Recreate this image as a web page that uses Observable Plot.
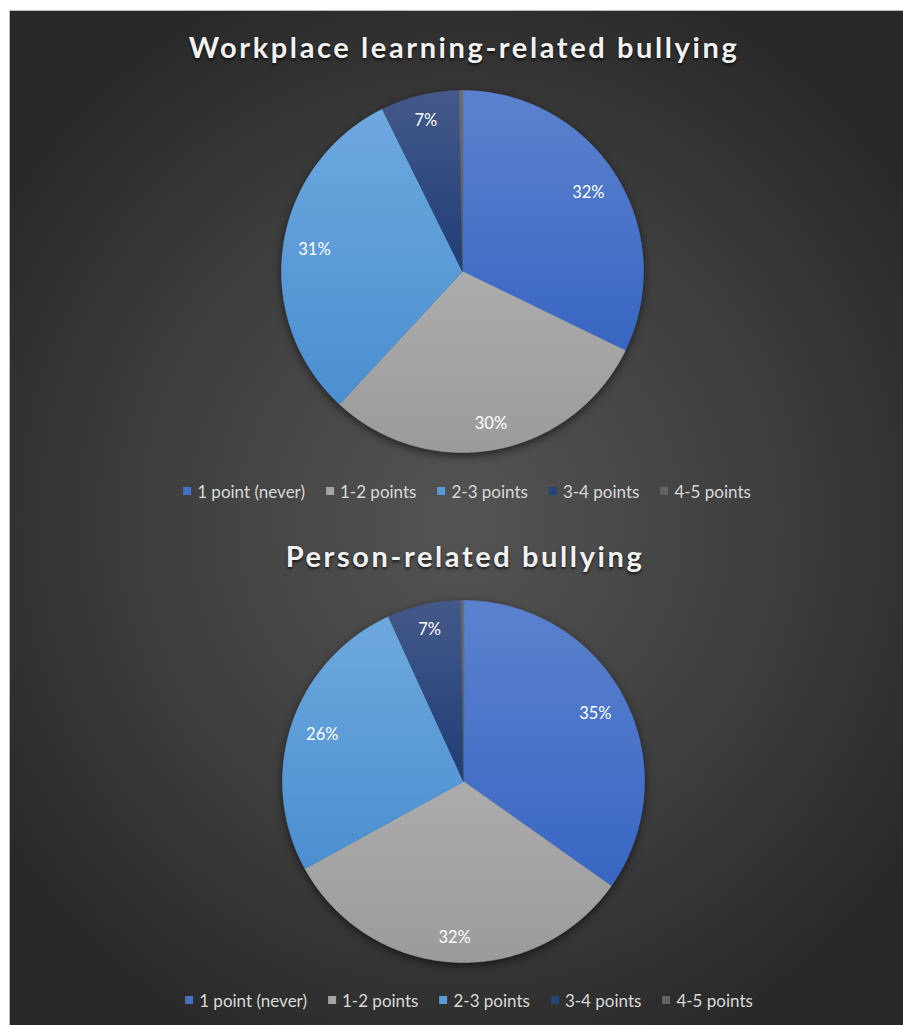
<!DOCTYPE html>
<html><head><meta charset="utf-8">
<script src="https://cdn.jsdelivr.net/npm/d3@7"></script>
<script src="https://cdn.jsdelivr.net/npm/@observablehq/plot@0.6"></script>
<style>
html,body{margin:0;padding:0;}
body{background:#fff;width:903px;height:1025px;overflow:hidden;position:relative;font-family:Lato,"Open Sans",sans-serif;}
#frame{position:absolute;left:9px;top:10px;width:900px;height:1020px;border-top:1px solid #b9b9b9;border-left:1px solid #b9b9b9;
 background:radial-gradient(ellipse 62% 58% at 50% 50%, #545454 0%, #3c3c3c 60%, #282828 100%);}
.title{position:absolute;transform:translateX(-50%);white-space:nowrap;color:#f2f2f2;font-weight:700;font-size:29px;line-height:29px;letter-spacing:2.6px;
 text-shadow:0 2px 3px rgba(0,0,0,0.7);font-family:Lato,sans-serif;}
.pie{position:absolute;}
.pie svg{overflow:visible;background:transparent;}
.pie g[aria-label="line"]{filter:drop-shadow(0 3px 4px rgba(0,0,0,0.55));}
.legend{position:absolute;transform:translateX(-50%);display:flex;white-space:nowrap;align-items:center;font-size:17px;color:#d9d9d9;line-height:17px;}
.legend .item{display:flex;align-items:center;margin-right:21px;}
.legend .item:last-child{margin-right:0;}
.legend .sw{width:8px;height:8px;margin-right:6px;}
</style>
</head><body>
<svg width="0" height="0" style="position:absolute">
 <defs>
  <linearGradient id="g0" x1="0" y1="0" x2="0" y2="1"><stop offset="0" stop-color="#5b82cf"/><stop offset="1" stop-color="#3866c2"/></linearGradient>
  <linearGradient id="g1" x1="0" y1="0" x2="0" y2="1"><stop offset="0" stop-color="#acacac"/><stop offset="1" stop-color="#9b9b9b"/></linearGradient>
  <linearGradient id="g2" x1="0" y1="0" x2="0" y2="1"><stop offset="0" stop-color="#6ea8df"/><stop offset="1" stop-color="#4a8fd0"/></linearGradient>
  <linearGradient id="g3" x1="0" y1="0" x2="0" y2="1"><stop offset="0" stop-color="#44598a"/><stop offset="1" stop-color="#1f3d74"/></linearGradient>
  <linearGradient id="g4" x1="0" y1="0" x2="0" y2="1"><stop offset="0" stop-color="#6c6c6c"/><stop offset="1" stop-color="#5a5a5a"/></linearGradient>
 </defs>
</svg>
<div id="frame"></div>
<script>
// ---- data ----
const categories = ["1 point (never)", "1-2 points", "2-3 points", "3-4 points", "4-5 points"];
const workplaceValues = [32.2, 29.7, 30.8, 7.0, 0.3];
const personValues = [34.8, 32.2, 26.2, 6.6, 0.2];
const titles = ["Workplace learning-related bullying", "Person-related bullying"];

// ---- styles ----
const legendColors = ["#4472c4", "#a5a5a5", "#5b9bd5", "#264478", "#636363"];
const sliceFills = ["url(#g0)", "url(#g1)", "url(#g2)", "url(#g3)", "url(#g4)"];

const R = 181; // px per data unit (pie radius)

function pieChart(values) {
  const arcs = d3.pie().sort(null).value(d => d.v).startAngle(0).endAngle(2 * Math.PI)(
    values.map((v, i) => ({cat: categories[i], v}))
  );
  const total = d3.sum(values);
  const pts = [];
  const labels = [];
  for (const a of arcs) {
    const cat = a.data.cat;
    pts.push({cat, x: 0, y: 0});
    const n = Math.max(2, Math.ceil((a.endAngle - a.startAngle) / (Math.PI / 360)));
    for (let k = 0; k <= n; k++) {
      const t = a.startAngle + (a.endAngle - a.startAngle) * k / n;
      pts.push({cat, x: Math.sin(t), y: Math.cos(t)});
    }
    const pct = Math.round(a.data.v / total * 100);
    if (pct >= 1) {
      const text = pct + "%";
      const mid = (a.startAngle + a.endAngle) / 2;
      const ux = Math.sin(mid), uy = Math.cos(mid);
      const w = text.length * 9.6, h = 16;
      const ext = Math.abs(ux) * w / 2 + Math.abs(uy) * h / 2;
      const d = (R - 16 - ext) / R;
      labels.push({text, x: ux * d, y: uy * d});
    }
  }
  return Plot.plot({
    width: 2 * R + 10, height: 2 * R + 10, margin: 5,
    x: {domain: [-1, 1], axis: null},
    y: {domain: [-1, 1], axis: null},
    color: {domain: categories, range: sliceFills},
    style: {background: "transparent", overflow: "visible"},
    marks: [
      Plot.line(pts, {x: "x", y: "y", z: "cat", fill: "cat", stroke: "cat", strokeWidth: 0.6, curve: "linear-closed"}),
      Plot.text(labels, {x: "x", y: "y", text: "text", fill: "#ffffff", fontSize: 16.5, fontFamily: "Lato, sans-serif"})
    ]
  });
}

function addTitle(text, cx, top) {
  const el = document.createElement("div");
  el.className = "title";
  el.textContent = text;
  el.style.left = cx + "px";
  el.style.top = top + "px";
  document.body.appendChild(el);
}
function addPie(values, cx, cy) {
  const wrap = document.createElement("div");
  wrap.className = "pie";
  wrap.style.left = (cx - R - 5) + "px";
  wrap.style.top = (cy - R - 5) + "px";
  wrap.appendChild(pieChart(values));
  document.body.appendChild(wrap);
}
function addLegend(cx, cy) {
  const el = document.createElement("div");
  el.className = "legend";
  el.style.left = cx + "px";
  el.style.top = (cy - 8.5) + "px";
  categories.forEach((c, i) => {
    const it = document.createElement("div");
    it.className = "item";
    const sw = document.createElement("span");
    sw.className = "sw";
    sw.style.background = legendColors[i];
    const tx = document.createElement("span");
    tx.textContent = c;
    it.appendChild(sw); it.appendChild(tx);
    el.appendChild(it);
  });
  document.body.appendChild(el);
}

addTitle(titles[0], 464, 32);
addPie(workplaceValues, 462, 271);
addLegend(467, 491);
addTitle(titles[1], 465, 541);
addPie(personValues, 463, 781);
addLegend(469, 1000);
</script>
</body></html>
